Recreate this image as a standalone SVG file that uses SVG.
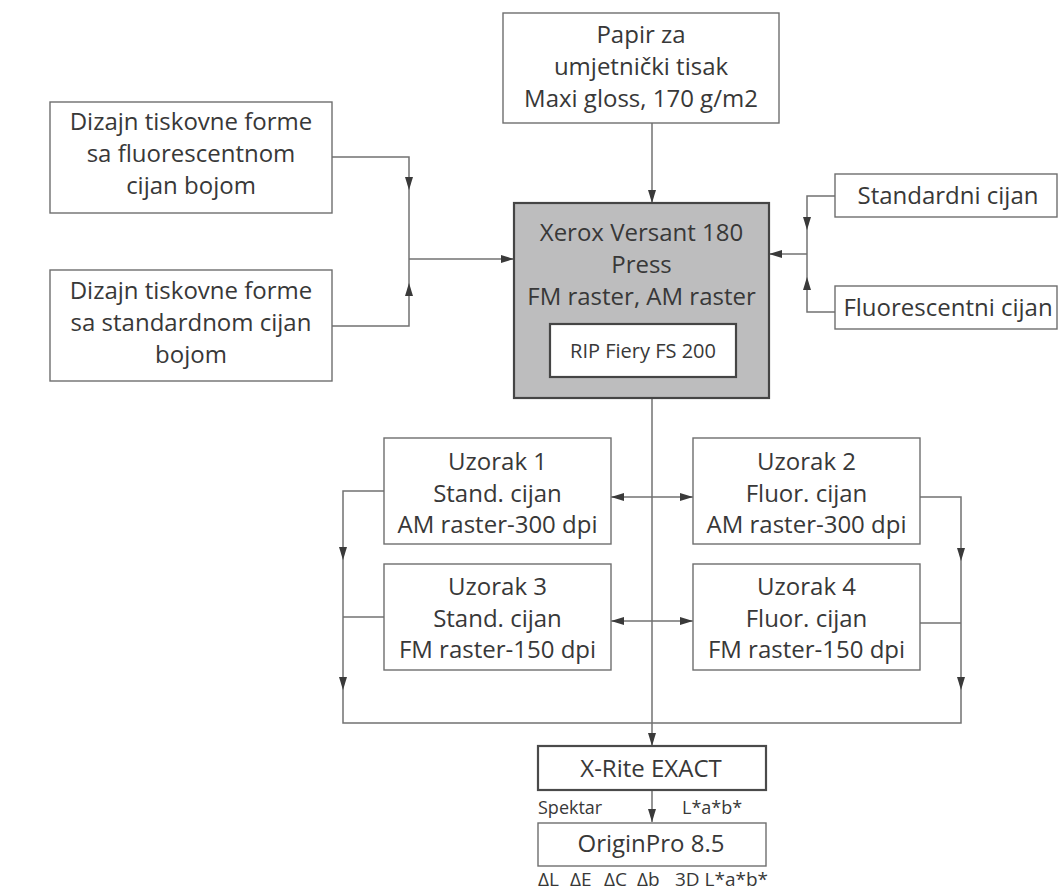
<svg xmlns="http://www.w3.org/2000/svg" width="1060" height="892" viewBox="0 0 1060 892">
<defs>
<marker id="ah" viewBox="0 0 13 8" refX="13" refY="4" markerWidth="13" markerHeight="8" markerUnits="userSpaceOnUse" orient="auto-start-reverse">
<path d="M0,0 L13,4 L0,8 z" fill="#3a3a3a"/>
</marker>
<style>
.box{fill:#ffffff;stroke:#6e6e6e;stroke-width:1.4}
.main{fill:#bdbdbe;stroke:#454545;stroke-width:2.2}
.rip{fill:#ffffff;stroke:#454545;stroke-width:2.2}
.xr{fill:#ffffff;stroke:#4a4a4a;stroke-width:2.2}
.t{font-family:"Open Sans","Liberation Sans",sans-serif;font-size:24px;fill:#383838;text-anchor:middle}
.s{font-family:"Open Sans","Liberation Sans",sans-serif;font-size:18px;fill:#383838}
.ln{fill:none;stroke:#727272;stroke-width:1.5}
.ar{marker-end:url(#ah)}
.bi{marker-start:url(#ah);marker-end:url(#ah)}
</style>
</defs>
<rect width="1060" height="892" fill="#ffffff"/>

<g id="connectors">
<path class="ln ar" d="M652,123 V203"/>
<path class="ln ar" d="M332,157 H409 V190"/>
<path class="ln" d="M409,190 V259"/>
<path class="ln ar" d="M332,326 H409 V283"/>
<path class="ln" d="M409,283 V259"/>
<path class="ln ar" d="M409,259 H514"/>
<path class="ln ar" d="M835,196 H807 V230"/>
<path class="ln" d="M807,230 V254"/>
<path class="ln ar" d="M835,312 H807 V277"/>
<path class="ln" d="M807,277 V254"/>
<path class="ln ar" d="M807,254 H769"/>
<path class="ln ar" d="M652,377 V746"/>
<path class="ln bi" d="M611,497 H693"/>
<path class="ln bi" d="M611,621 H693"/>
<path class="ln ar" d="M384,491 H343 V560"/>
<path class="ln ar" d="M343,560 V690"/>
<path class="ln" d="M384,617 H343"/>
<path class="ln ar" d="M920,497 H961 V561"/>
<path class="ln ar" d="M961,561 V690"/>
<path class="ln" d="M920,623 H961"/>
<path class="ln" d="M343,690 V723 H961 V690"/>
<path class="ln ar" d="M652,790 V822"/>
</g>

<g id="papir">
<rect class="box" x="503" y="13" width="276" height="110"/>
<text class="t" x="641" y="43">Papir za</text>
<text class="t" x="641" y="75">umjetnički tisak</text>
<text class="t" x="641" y="107">Maxi gloss, 170 g/m2</text>
</g>

<g id="dizajn-fluor">
<rect class="box" x="50" y="102" width="282" height="111"/>
<text class="t" x="191" y="130">Dizajn tiskovne forme</text>
<text class="t" x="191" y="162">sa fluorescentnom</text>
<text class="t" x="191" y="194">cijan bojom</text>
</g>

<g id="dizajn-std">
<rect class="box" x="50" y="270" width="282" height="111"/>
<text class="t" x="191" y="299">Dizajn tiskovne forme</text>
<text class="t" x="191" y="331">sa standardnom cijan</text>
<text class="t" x="191" y="363">bojom</text>
</g>

<g id="xerox">
<rect class="main" x="514" y="203" width="255" height="195"/>
<text class="t" x="641.5" y="241">Xerox Versant 180</text>
<text class="t" x="641.5" y="273">Press</text>
<text class="t" x="641.5" y="305">FM raster, AM raster</text>
</g>

<g id="rip">
<rect class="rip" x="550" y="324" width="186" height="53"/>
<text class="t" x="643" y="358" style="font-size:20px">RIP Fiery FS 200</text>
</g>

<g id="std-cijan">
<rect class="box" x="835" y="174" width="222" height="43"/>
<text class="t" x="948" y="204">Standardni cijan</text>
</g>

<g id="fluor-cijan">
<rect class="box" x="835" y="286" width="222" height="43"/>
<text class="t" x="948" y="316">Fluorescentni cijan</text>
</g>

<g id="uzorak1">
<rect class="box" x="384" y="438" width="227" height="106"/>
<text class="t" x="497.5" y="470">Uzorak 1</text>
<text class="t" x="497.5" y="502">Stand. cijan</text>
<text class="t" x="497.5" y="533">AM raster-300 dpi</text>
</g>

<g id="uzorak2">
<rect class="box" x="693" y="438" width="227" height="106"/>
<text class="t" x="806.5" y="470">Uzorak 2</text>
<text class="t" x="806.5" y="502">Fluor. cijan</text>
<text class="t" x="806.5" y="533">AM raster-300 dpi</text>
</g>

<g id="uzorak3">
<rect class="box" x="384" y="564" width="227" height="106"/>
<text class="t" x="497.5" y="595">Uzorak 3</text>
<text class="t" x="497.5" y="627">Stand. cijan</text>
<text class="t" x="497.5" y="658">FM raster-150 dpi</text>
</g>

<g id="uzorak4">
<rect class="box" x="693" y="564" width="227" height="106"/>
<text class="t" x="806.5" y="595">Uzorak 4</text>
<text class="t" x="806.5" y="627">Fluor. cijan</text>
<text class="t" x="806.5" y="658">FM raster-150 dpi</text>
</g>

<g id="xrite">
<rect class="xr" x="538" y="746" width="228" height="44"/>
<text class="t" x="651" y="777">X-Rite EXACT</text>
<text class="s" x="538" y="814">Spektar</text>
<text class="s" x="682" y="814">L*a*b*</text>
</g>

<g id="origin">
<rect class="box" x="538" y="823" width="228" height="43"/>
<text class="t" x="651" y="852">OriginPro 8.5</text>
<text class="s" y="886" style="font-size:19px"><tspan x="538">ΔL</tspan><tspan x="570">ΔE</tspan><tspan x="604">ΔC</tspan><tspan x="637">Δb</tspan><tspan x="675">3D L*a*b*</tspan></text>
</g>
</svg>
